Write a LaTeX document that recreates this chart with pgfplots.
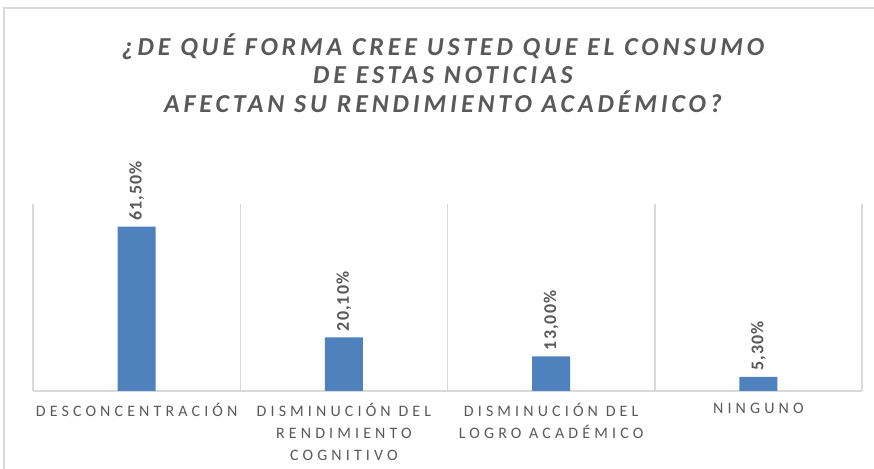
\documentclass[border=0pt]{standalone}
\usepackage{pgfplots}
\pgfplotsset{compat=1.18}
\usepackage{fontspec}
\setmainfont{Carlito}
\newfontfamily\titlefont[LetterSpace=15]{Carlito}
\newfontfamily\catfont[LetterSpace=26]{Carlito}
\newfontfamily\labfont[LetterSpace=6]{Carlito}
\definecolor{barblue}{HTML}{4F81BD}
\definecolor{txtgray}{HTML}{595959}
\definecolor{gridgray}{HTML}{D9D9D9}
\begin{document}
\begin{tikzpicture}[x=1bp,y=1bp]
\path[use as bounding box] (0,0) rectangle (874,469);
\draw[gridgray, line width=1.5bp] (4,0) -- (4,461) -- (874,461);
\node[align=center, text=txtgray, font=\titlefont\fontsize{26}{28.5}\selectfont\bfseries\itshape] at (443,396)
  {¿DE QUÉ FORMA CREE USTED QUE EL CONSUMO\\DE ESTAS NOTICIAS\\AFECTAN SU RENDIMIENTO ACADÉMICO?};
\begin{axis}[
  at={(33bp,78bp)}, anchor=south west,
  scale only axis, width=829bp, height=187bp,
  ybar, bar width=38bp,
  xmin=-0.5, xmax=3.5, ymin=0, ymax=70,
  separate axis lines,
  axis x line*=bottom, axis y line=none,
  x axis line style={gridgray, line width=1.5bp},
  xtick={0,1,2,3},
  xticklabels={DESCONCENTRACIÓN,{DISMINUCIÓN DEL\\RENDIMIENTO\\COGNITIVO},{DISMINUCIÓN DEL\\LOGRO ACADÉMICO},NINGUNO},
  major tick length=0pt,
  extra x ticks={-0.5,0.5,1.5,2.5,3.5},
  extra x tick labels={,,,,},
  extra x tick style={grid=major, major grid style={gridgray, line width=1.5bp}},
  ytick=\empty,
  xticklabel style={align=center, text=txtgray, font=\catfont\fontsize{16}{22}\selectfont, yshift=-9bp},
  nodes near coords,
  point meta=explicit symbolic,
  every node near coord/.append style={rotate=90, anchor=west, text=txtgray, font=\labfont\fontsize{18}{18}\selectfont\bfseries, inner sep=6bp},
]
\addplot[fill=barblue, draw=none] coordinates {(0,61.5) [61,50\%] (1,20.1) [20,10\%] (2,13.0) [13,00\%] (3,5.3) [5,30\%]};
\end{axis}
\end{tikzpicture}
\end{document}
